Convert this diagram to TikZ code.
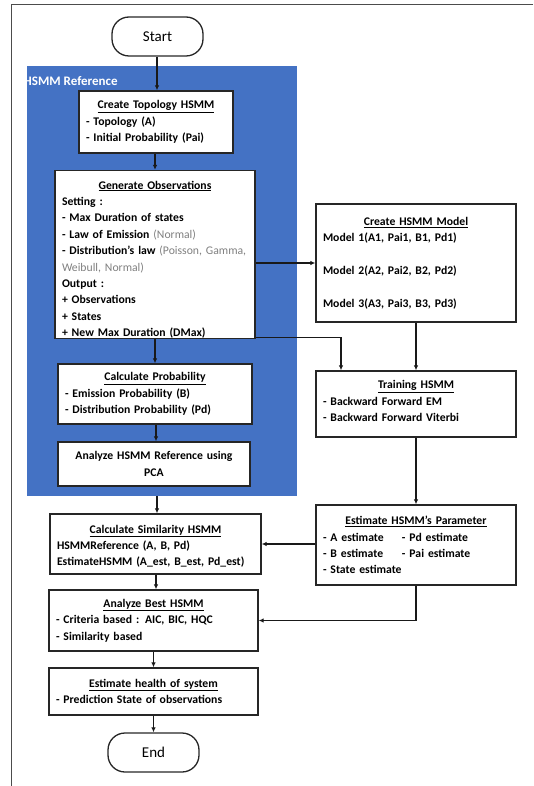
\documentclass[tikz,border=0pt]{standalone}
\usepackage{fontspec}
\setmainfont{Carlito}
\usetikzlibrary{arrows.meta}

\definecolor{hsmmblue}{HTML}{4472C4}
\definecolor{notegray}{HTML}{808080}
\newcommand{\boxhead}[1]{\makebox[\linewidth]{\underline{#1}}}
\newcommand{\graynote}[1]{\textcolor{notegray}{\mdseries #1}}

\tikzset{
  procbox/.style={draw=black!85, line width=1.3pt, fill=white, inner xsep=7pt,
    inner ysep=1pt, align=left, text width=#1,
    font=\fontsize{11.7}{16.4}\selectfont\bfseries},
  terminal/.style={draw=black!85, line width=1.3pt, rounded corners=17pt,
    minimum width=91pt, minimum height=39pt, font=\fontsize{15}{18}\selectfont},
  flow/.style={-{Latex[length=5pt,width=4.5pt]}, line width=1.2pt, black!90}
}

\begin{document}
\begin{tikzpicture}[x=1pt,y=-1pt]
  \useasboundingbox (0,0) rectangle (533,786);
  % page frame
  \draw[gray!60!black, line width=0.9pt] (533,4) -- (11,4) -- (11,786);

  \node[terminal] (start) at (157.5,36.5) {Start};

  % reference block
  \node[fill=hsmmblue, minimum width=270pt, minimum height=430pt, inner sep=0pt] (ref) at (162,281) {};
  \node[anchor=west, text=white, inner sep=0pt, font=\fontsize{13}{15}\selectfont\bfseries] (reflabel) at (23.5,81) {HSMM Reference};

  \node[procbox=140pt, minimum height=62pt] (topo) at (156,122)
    {\boxhead{Create Topology HSMM}\\- Topology (A)\\- Initial Probability (Pai)};

  \node[procbox=186pt, minimum height=168pt, text depth=139pt] (genobs) at (155,254.5)
    {\boxhead{Generate Observations}\\Setting :\\- Max Duration of states\\
     - Law of Emission \graynote{(Normal)}\\
     \mbox{- Distribution's law \graynote{(Poisson, Gamma,}}\\\graynote{Weibull, Normal)}\\
     Output :\\+ Observations\\+ States\\+ New Max Duration (DMax)};

  \node[procbox=180pt, minimum height=60pt] (calcprob) at (155,394)
    {\boxhead{Calculate Probability}\\- Emission Probability (B)\\- Distribution Probability (Pd)};

  \node[procbox=178pt, minimum height=44pt, align=center] (pca) at (154,464)
    {Analyze HSMM Reference using\\PCA};

  % model side
  \node[procbox=186pt, minimum height=118pt] (model) at (416,263)
    {\boxhead{Create HSMM Model}\\Model 1(A1, Pai1, B1, Pd1)\\[16.4pt]
     Model 2(A2, Pai2, B2, Pd2)\\[16.4pt]Model 3(A3, Pai3, B3, Pd3)};

  \node[procbox=186pt, minimum height=66pt, text depth=39pt] (training) at (416,404)
    {\boxhead{Training HSMM}\\- Backward Forward EM\\- Backward Forward Viterbi};

  \node[procbox=186pt, minimum height=80pt] (estimate) at (416,545)
    {\boxhead{Estimate HSMM's Parameter}\\
     \makebox[79pt][l]{- A estimate}- Pd estimate\\
     \makebox[79pt][l]{- B estimate}- Pai estimate\\
     - State estimate};

  % evaluation
  \node[procbox=197pt, minimum height=60pt, text depth=30pt] (sim) at (155.5,544)
    {\boxhead{Calculate Similarity HSMM}\\HSMMReference (A, B, Pd)\\EstimateHSMM (A\_est, B\_est, Pd\_est)};

  \node[procbox=195pt, minimum height=61pt] (best) at (153.5,620.5)
    {\boxhead{Analyze Best HSMM}\\- Criteria based : AIC, BIC, HQC\\- Similarity based};

  \node[procbox=195pt, minimum height=47pt] (health) at (153.5,691.5)
    {\boxhead{Estimate health of system}\\- Prediction State of observations};

  \node[terminal] (end) at (153.5,752.5) {End};

  % connectors
  \draw[flow] (start.south -| topo.north) ++(1,0) -- ([xshift=1pt]topo.north);
  \draw[flow] ([xshift=-1pt]topo.south) -- ([xshift=-1pt]topo.south |- genobs.north);
  \draw[flow] (genobs.south) -- (genobs.south |- calcprob.north);
  \draw[flow] ([xshift=1pt]calcprob.south) -- ([xshift=1pt]calcprob.south |- pca.north);
  \draw[flow] ([xshift=1.5pt]ref.south -| sim.north) -- ([xshift=1.5pt]sim.north);
  \draw[flow] (genobs.east |- model.west) -- (model.west);
  \draw[flow] ([yshift=2pt]genobs.south east) -| ([xshift=-75pt]training.north);
  \draw[flow] (model.south) -- (training.north);
  \draw[flow] (training.south) -- (estimate.north);
  \draw[flow] (estimate.west |- sim.east) -- (sim.east);
  \draw[flow] (estimate.south) |- (best.east);
  \draw[flow] ([xshift=0.5pt]sim.south) -- ([xshift=0.5pt]sim.south |- best.north);
  \draw[flow] (best.south) -- (health.north);
  \draw[flow] (health.south) -- (end.north);
\end{tikzpicture}
\end{document}
